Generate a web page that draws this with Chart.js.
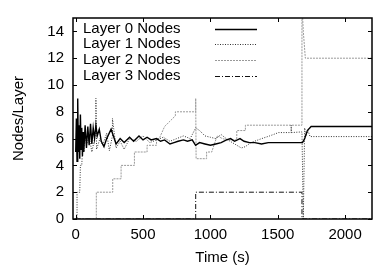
<!DOCTYPE html>
<html>
<head>
<meta charset="utf-8">
<script src="https://cdn.jsdelivr.net/npm/chart.js@4/dist/chart.umd.min.js"></script>
<style>
  html, body { margin: 0; padding: 0; background: #fff; }
  #wrap { width: 373px; height: 275px; }
</style>
</head>
<body>
<div id="wrap"><canvas id="c" width="373" height="275"></canvas></div>
<script>
// データ（画像から読み取った概算値）
const seriesNames = ["Layer 0 Nodes", "Layer 1 Nodes", "Layer 2 Nodes", "Layer 3 Nodes"];

const layer0Time = [0, 5, 10, 15, 20, 25, 30, 35, 40, 45, 50, 55, 60, 70, 80, 90, 100, 110, 120, 130, 140, 150, 160, 175, 190, 210, 230, 263, 300, 330, 360, 400, 430, 470, 500, 530, 560, 600, 630, 660, 700, 730, 760, 800, 830, 865, 890, 920, 960, 1000, 1040, 1080, 1120, 1150, 1180, 1220, 1250, 1290, 1330, 1380, 1430, 1480, 1540, 1684, 1700, 1720, 1748, 2200];
const layer0Val  = [5, 7.5, 4.3, 9, 5, 7, 4.5, 7.8, 5.2, 6.8, 4.7, 6.5, 5.0, 7.0, 5.3, 6.9, 5.5, 7.1, 5.6, 6.8, 6.0, 7.0, 6.2, 6.7, 5.8, 5.4, 6.0, 6.7, 5.6, 6.0, 5.7, 6.1, 5.8, 6.2, 5.9, 6.1, 5.9, 6.0, 5.8, 5.9, 5.6, 5.7, 5.8, 5.9, 5.8, 5.9, 5.5, 5.7, 5.6, 5.5, 5.6, 5.7, 5.9, 6.0, 5.8, 6.0, 5.8, 5.7, 5.7, 5.6, 5.7, 5.7, 5.7, 5.7, 6.0, 6.6, 6.9, 6.9];

const layer1Time = [0, 10, 10, 30, 35, 45, 55, 60, 70, 80, 100, 120, 140, 150, 150, 155, 180, 200, 230, 250, 273, 273, 300, 330, 360, 400, 450, 500, 550, 600, 650, 700, 750, 800, 850, 891, 920, 960, 1000, 1040, 1080, 1130, 1180, 1230, 1260, 1300, 1381, 1440, 1506, 1600, 1600, 1601, 1680, 1690, 1700, 1710, 1725, 1740, 2200];
const layer1Val  = [0, 0, 2, 2, 4, 4, 6, 5, 6.5, 5.5, 6.2, 5.0, 6.0, 6.5, 9, 5.2, 6.0, 5.5, 6.4, 5.1, 6.2, 7.5, 5.3, 5.8, 5.2, 6.0, 5.8, 6.2, 5.7, 5.9, 6.1, 5.8, 6.0, 6.2, 6.0, 6.8, 6.6, 6.2, 6.1, 6.0, 6.3, 5.9, 5.6, 5.3, 5.4, 5.7, 6.0, 6.2, 6.45, 6.45, 7.0, 6.45, 6.5, 0, 6.8, 6.2, 6.6, 6.15, 6.15];

const layer2Time = [0, 153, 153, 275, 275, 337, 337, 436, 436, 530, 530, 600, 600, 620, 660, 700, 740, 740, 891, 891, 894, 972, 972, 1010, 1050, 1090, 1130, 1196, 1196, 1260, 1260, 1680, 1680, 1690, 1705, 2200];
const layer2Val  = [0, 0, 2, 2, 3, 3, 4, 4, 5, 5, 5.5, 5.5, 6, 6, 6.9, 7.3, 7.7, 8, 8, 9, 4.5, 4.5, 5.0, 5.0, 6.2, 6.0, 5.9, 5.9, 6.6, 6.6, 7.0, 7.0, 16, 14, 12, 12];

const layer3Time = [0, 891, 891, 1680, 1680, 2200];
const layer3Val  = [0, 0, 2, 2, 0, 0];

const xTicks = [0, 500, 1000, 1500, 2000];
const yTicks = [0, 2, 4, 6, 8, 10, 12, 14];

const FONT = "'Liberation Sans', Arial, Helvetica, sans-serif";

function pts(t, v) { return t.map((x, i) => ({ x, y: v[i] })); }

// 枠と内向きの目盛り（gnuplot風）
const framePlugin = {
  id: "frame",
  afterDatasetsDraw(chart) {
    const { ctx, chartArea: a, scales: { x, y } } = chart;
    ctx.save();
    ctx.strokeStyle = "#000";
    ctx.lineWidth = 1;
    const L = 4;
    ctx.beginPath();
    xTicks.forEach(v => {
      const px = Math.round(x.getPixelForValue(v)) + 0.5;
      ctx.moveTo(px, a.bottom); ctx.lineTo(px, a.bottom - L);
      ctx.moveTo(px, a.top); ctx.lineTo(px, a.top + L);
    });
    yTicks.forEach(v => {
      const py = Math.round(y.getPixelForValue(v)) + 0.5;
      ctx.moveTo(a.left, py); ctx.lineTo(a.left + L, py);
      ctx.moveTo(a.right, py); ctx.lineTo(a.right - L, py);
    });
    ctx.stroke();
    ctx.lineWidth = 1.5;
    ctx.strokeRect(a.left, a.top, a.right - a.left, a.bottom - a.top);
    ctx.restore();
  }
};

// 凡例（文字が左、線見本が右）
const legendPlugin = {
  id: "innerLegend",
  afterDraw(chart) {
    const { ctx, chartArea: a } = chart;
    ctx.save();
    ctx.font = "15px " + FONT;
    ctx.fillStyle = "#000";
    ctx.textBaseline = "middle";
    chart.data.datasets.forEach((ds, i) => {
      const yy = a.top + 10.5 + i * 15.7;
      ctx.fillText(ds.label, a.left + 10, yy);
      ctx.beginPath();
      ctx.setLineDash(ds.borderDash || []);
      ctx.strokeStyle = ds.borderColor;
      ctx.lineWidth = ds.borderWidth;
      ctx.moveTo(a.left + 142, Math.round(yy) + 0.5);
      ctx.lineTo(a.left + 184, Math.round(yy) + 0.5);
      ctx.stroke();
    });
    ctx.restore();
  }
};

const lineDs = (i, t, v, color, width, dash) => ({
  label: seriesNames[i],
  data: pts(t, v),
  borderColor: color,
  borderWidth: width,
  borderDash: dash,
  pointRadius: 0,
  fill: false,
  tension: 0
});

new Chart(document.getElementById("c"), {
  type: "line",
  data: {
    datasets: [
      lineDs(0, layer0Time, layer0Val, "#000", 1.4, []),
      lineDs(1, layer1Time, layer1Val, "#333", 1, [1, 1.5]),
      lineDs(2, layer2Time, layer2Val, "#999", 1, [2, 1]),
      lineDs(3, layer3Time, layer3Val, "#111", 1, [5, 2, 1, 2])
    ]
  },
  options: {
    responsive: false,
    animation: false,
    layout: { padding: { top: 5, right: 1, left: 0, bottom: 0 } },
    plugins: { legend: { display: false }, tooltip: { enabled: false } },
    scales: {
      x: {
        type: "linear",
        min: -20, max: 2200,
        afterBuildTicks: s => { s.ticks = xTicks.map(v => ({ value: v })); },
        afterFit: s => { s.height = 56; },
        grid: { display: false, drawTicks: false },
        border: { display: false },
        ticks: { color: "#000", padding: 7, maxRotation: 0, callback: v => String(v), font: { size: 15, family: FONT } },
        title: { display: true, text: "Time (s)", color: "#000", padding: { top: 0, bottom: 8 }, font: { size: 15, family: FONT } }
      },
      y: {
        min: 0, max: 15,
        afterBuildTicks: s => { s.ticks = yTicks.map(v => ({ value: v })); },
        afterFit: s => { s.width = 73; },
        grid: { display: false, drawTicks: false },
        border: { display: false },
        ticks: { color: "#000", padding: 9, callback: v => String(v), font: { size: 15, family: FONT } },
        title: { display: true, text: "Nodes/Layer", color: "#000", padding: { top: 10, bottom: 0 }, font: { size: 15, family: FONT } }
      }
    }
  },
  plugins: [framePlugin, legendPlugin]
});
</script>
</body>
</html>
